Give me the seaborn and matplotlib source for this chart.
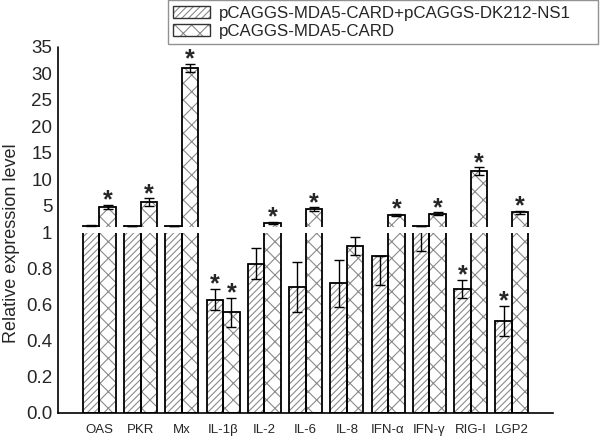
import numpy as np
import pandas as pd
import matplotlib
matplotlib.use('Agg')
import matplotlib.pyplot as plt
import seaborn as sns
from matplotlib.patches import Rectangle, Patch
from matplotlib.lines import Line2D
from matplotlib.legend_handler import HandlerTuple

sns.set_theme(style='white')
plt.rcParams['font.family'] = ['Liberation Sans', 'DejaVu Sans']
plt.rcParams['hatch.linewidth'] = 0.8

# values
genes = ['OAS', 'PKR', 'Mx', 'IL-1β', 'IL-2', 'IL-6', 'IL-8', 'IFN-α', 'IFN-γ', 'RIG-I', 'LGP2']
groups = ['pCAGGS-MDA5-CARD+pCAGGS-DK212-NS1', 'pCAGGS-MDA5-CARD']

ns1_mean = [1.25, 1.15, 1.15, 0.63, 0.83, 0.70, 0.72, 0.87, 1.10, 0.69, 0.51]
ns1_err_lo = [0.05, 0.03, 0.03, 0.06, 0.085, 0.14, 0.13, 0.16, 0.20, 0.05, 0.085]
ns1_err_hi = [0.05, 0.03, 0.03, 0.06, 0.085, 0.14, 0.13, 0.0, 0.05, 0.05, 0.085]
ns1_sig = [0, 0, 0, 1, 0, 0, 0, 0, 0, 1, 1]

card_mean = [4.8, 5.7, 31.0, 0.56, 1.8, 4.4, 0.93, 3.3, 3.5, 11.6, 3.8]
card_err = [0.4, 0.7, 0.8, 0.08, 0.2, 0.3, 0.05, 0.2, 0.3, 0.7, 0.3]
card_sig = [1, 1, 1, 1, 1, 1, 0, 1, 1, 1, 1]

df = pd.DataFrame({
    'gene': genes * 2,
    'group': [groups[0]] * len(genes) + [groups[1]] * len(genes),
    'value': ns1_mean + card_mean,
})

err_lo = [ns1_err_lo, card_err]
err_hi = [ns1_err_hi, card_err]
means = [ns1_mean, card_mean]
sigs = [ns1_sig, card_sig]
hatches = ['/////', 'xx']

fig = plt.figure(figsize=(6, 4.38), dpi=100)
ax_hi = fig.add_axes([0.0967, 0.4817, 0.825, 0.411])
ax_lo = fig.add_axes([0.0967, 0.0571, 0.825, 0.411])

for ax in (ax_hi, ax_lo):
    sns.barplot(data=df, x='gene', y='value', hue='group', hue_order=groups,
                order=genes, errorbar=None, width=0.8, legend=False, ax=ax)
    bars = list(ax.patches)
    for p in bars:
        cx = p.get_x() + p.get_width() / 2
        i = int(round(cx))
        g = 0 if cx < i else 1
        m = means[g][i]
        top = m + err_hi[g][i]
        bot = m - err_lo[g][i]
        p.set_facecolor('white')
        p.set_edgecolor('#8a8a8a')
        p.set_linewidth(0)
        p.set_hatch(hatches[g])
        if ax is ax_lo or m > 1:
            ax.add_patch(Rectangle(p.get_xy(), p.get_width(), p.get_height(),
                                   fill=False, edgecolor='black', linewidth=1.3))
        # only draw the part of the error bar that falls inside this panel
        if (ax is ax_hi and top > 1) or (ax is ax_lo and bot < 1):
            ax.errorbar(cx, m, yerr=[[err_lo[g][i]], [err_hi[g][i]]],
                        fmt='none', ecolor='black', elinewidth=1.0, capsize=3.5, capthick=1.0)
        if sigs[g][i]:
            on_hi = top > 1
            if (ax is ax_hi) == on_hi:
                ax.annotate('*', (cx, top), xytext=(0, -2), textcoords='offset points',
                            ha='center', va='baseline', fontsize=18, fontweight='bold',
                            annotation_clip=False)
    ax.set_xlim(-1, 11)
    ax.set_xlabel('')
    ax.set_ylabel('')
    for s in ('top', 'right', 'left'):
        ax.spines[s].set_visible(False)
    ax.tick_params(axis='y', length=0, pad=4, labelsize=13.5)

ax_hi.set_ylim(1, 35)
ax_hi.set_yticks([5, 10, 15, 20, 25, 30, 35])
ax_hi.spines['bottom'].set_visible(False)
ax_hi.tick_params(axis='x', length=0, labelbottom=False)

ax_lo.set_ylim(0, 1)
ax_lo.set_yticks([0, 0.2, 0.4, 0.6, 0.8, 1.0])
ax_lo.set_yticklabels(['0.0', '0.2', '0.4', '0.6', '0.8', '1'])
ax_lo.spines['bottom'].set_color('black')
ax_lo.spines['bottom'].set_linewidth(1.2)
ax_lo.tick_params(axis='x', length=0, pad=8, labelsize=9.5)

# continuous left axis line across the break
fig.add_artist(Line2D([0.0967, 0.0967], [0.0571, 0.8927], color='black', linewidth=1.2))

fig.text(0.02, 0.445, 'Relative expression level', rotation=90, ha='center', va='center', fontsize=13)

handles = []
for g in range(2):
    handles.append((Patch(facecolor='white', edgecolor='#8a8a8a', linewidth=0, hatch=hatches[g]),
                    Patch(fill=False, edgecolor='#333333', linewidth=1.0)))
leg = fig.legend(handles, groups, handler_map={tuple: HandlerTuple(ndivide=1)},
                 loc='upper left', bbox_to_anchor=(168 / 600, 0.999, 430 / 600, 0),
                 mode='expand', fontsize=12.2,
                 frameon=True, fancybox=False, edgecolor='#777777', borderpad=0.3,
                 handlelength=2.2, handleheight=0.75, handletextpad=0.5, labelspacing=0.2,
                 borderaxespad=0)
leg.get_frame().set_linewidth(1.0)

fig.savefig('out.png', dpi=100)
